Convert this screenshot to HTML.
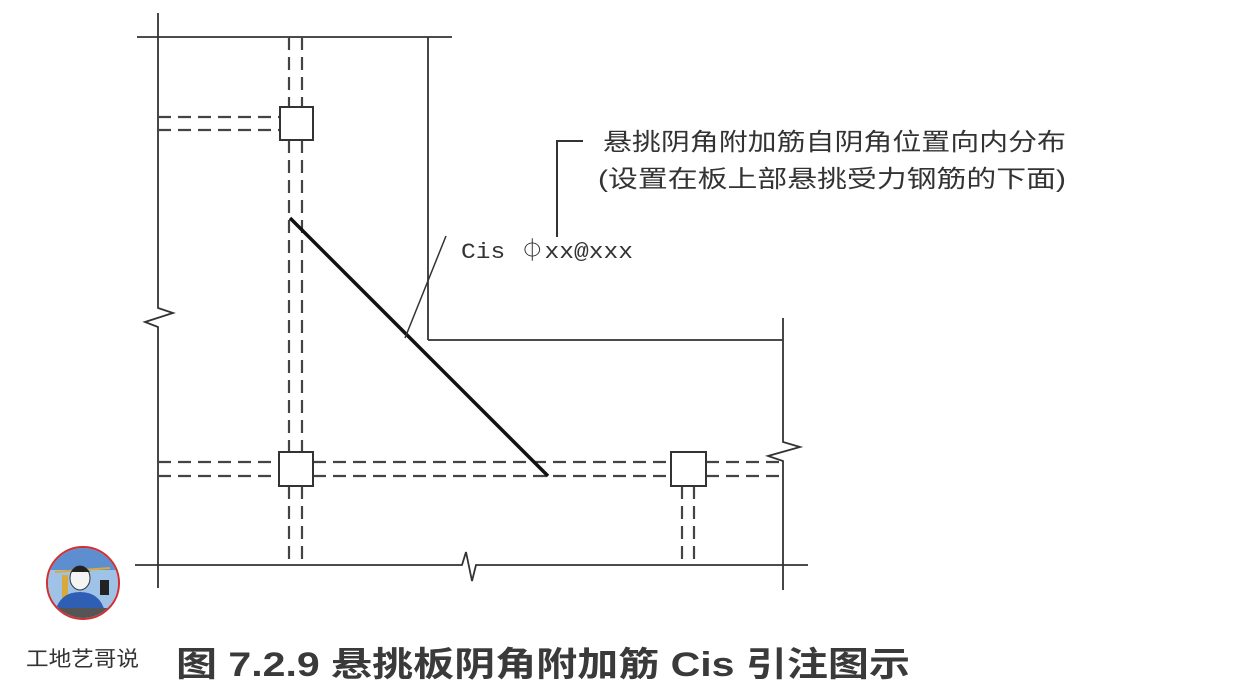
<!DOCTYPE html>
<html><head><meta charset="utf-8"><style>
html,body{margin:0;padding:0;background:#fff;}
svg{display:block;}
</style></head><body>
<svg width="1240" height="698" viewBox="0 0 1240 698" xmlns="http://www.w3.org/2000/svg">
<rect width="1240" height="698" fill="#fff"/>
<g stroke="#333" stroke-width="1.8" fill="none">
<polyline points="158,13 158,308 173,313 145,322 158,327 158,588"/>
<line x1="137" y1="37" x2="452" y2="37"/>
<line x1="428" y1="37" x2="428" y2="340"/>
<line x1="428" y1="340" x2="783" y2="340"/>
<polyline points="783,318 783,442 800,447 768,456 783,461 783,590"/>
<polyline points="135,565 462,565 466,552 472,581 476,565 808,565"/>
</g>
<g stroke="#444" stroke-width="2.2" fill="none" stroke-dasharray="13,7">
<line x1="289" y1="37" x2="289" y2="106"/>
<line x1="302" y1="37" x2="302" y2="106"/>
<line x1="289" y1="140" x2="289" y2="452"/>
<line x1="302" y1="140" x2="302" y2="452"/>
<line x1="289" y1="486" x2="289" y2="565"/>
<line x1="302" y1="486" x2="302" y2="565"/>
<line x1="682" y1="486" x2="682" y2="565"/>
<line x1="694" y1="486" x2="694" y2="565"/>
<line x1="158" y1="117" x2="280" y2="117"/>
<line x1="158" y1="130" x2="280" y2="130"/>
<line x1="158" y1="462" x2="278" y2="462"/>
<line x1="158" y1="476" x2="278" y2="476"/>
<line x1="313" y1="462" x2="670" y2="462"/>
<line x1="313" y1="476" x2="670" y2="476"/>
<line x1="706" y1="462" x2="783" y2="462"/>
<line x1="706" y1="476" x2="783" y2="476"/>
</g>
<g stroke="#333" stroke-width="2" fill="#fff">
<rect x="280" y="107" width="33" height="33"/>
<rect x="279" y="452" width="34" height="34"/>
<rect x="671" y="452" width="35" height="34"/>
</g>
<line x1="290" y1="218" x2="548" y2="476" stroke="#111" stroke-width="3.5"/>
<line x1="405" y1="338" x2="446" y2="236" stroke="#333" stroke-width="1.5"/>
<polyline points="557,237 557,141 583,141" stroke="#333" stroke-width="2" fill="none"/>
<g fill="#333" font-family="'Liberation Mono','Noto Sans CJK SC',monospace">
<text x="461" y="258" font-size="22" textLength="172" lengthAdjust="spacingAndGlyphs">Cis ⏀xx@xxx</text>
</g>
<g fill="#333" font-family="'Liberation Sans','Noto Sans CJK SC',sans-serif">
<text x="603" y="150" font-size="24" textLength="463" lengthAdjust="spacingAndGlyphs">悬挑阴角附加筋自阴角位置向内分布</text>
<text x="598" y="187" font-size="24" textLength="468" lengthAdjust="spacingAndGlyphs">(设置在板上部悬挑受力钢筋的下面)</text>
<text x="176" y="676" font-size="34" font-weight="bold" fill="#3a3a3a" textLength="734" lengthAdjust="spacingAndGlyphs">图 7.2.9 悬挑板阴角附加筋 Cis 引注图示</text>
<text x="26" y="666" font-size="21" textLength="113" lengthAdjust="spacingAndGlyphs">工地艺哥说</text>
</g>
<defs><clipPath id="c"><circle cx="83" cy="583" r="35"/></clipPath></defs>
<g clip-path="url(#c)">
<rect x="45" y="545" width="80" height="80" fill="#9fc3e6"/>
<rect x="45" y="545" width="80" height="25" fill="#5d8fd0"/>
<rect x="62" y="575" width="6" height="30" fill="#d9a93a"/>
<line x1="55" y1="572" x2="110" y2="568" stroke="#d9a93a" stroke-width="2"/>
<ellipse cx="80" cy="578" rx="10" ry="12" fill="#f4f4f4" stroke="#333"/>
<path d="M71,572 Q80,560 90,572" fill="#222"/>
<path d="M55,612 Q60,592 80,592 Q100,592 105,612 Z" fill="#2f5fb5"/>
<rect x="100" y="580" width="9" height="15" fill="#222"/>
<rect x="45" y="608" width="80" height="20" fill="#555"/>
</g>
<circle cx="83" cy="583" r="36" fill="none" stroke="#d03030" stroke-width="2"/>
</svg>
</body></html>
